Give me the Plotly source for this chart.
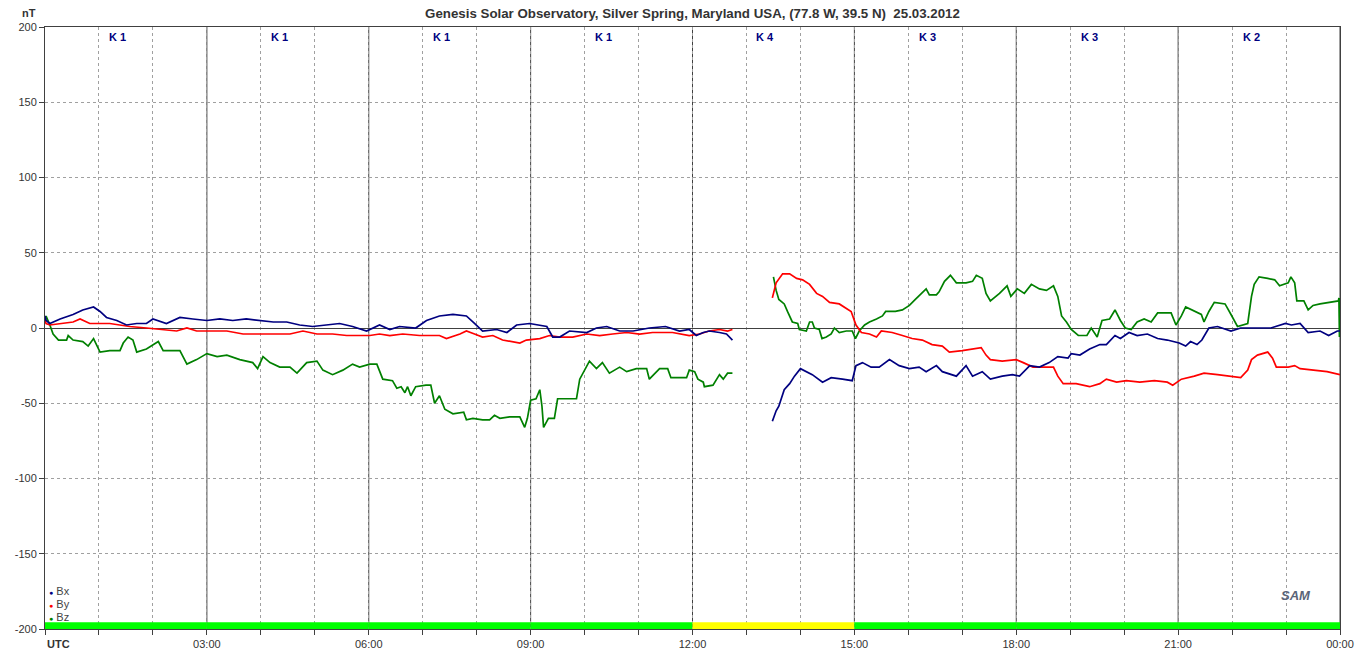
import plotly.graph_objects as go

# ---------------- data (hours UTC, nT) ----------------
bx_t = [0, 0.02, 0.09, 0.28, 0.52, 0.7, 0.9, 1.02, 1.14, 1.33, 1.51, 1.7, 1.88, 2.0, 2.25, 2.5, 2.74, 3.0,
        3.24, 3.48, 3.73, 3.98, 4.23, 4.48, 4.72, 4.96, 5.22, 5.46, 5.7, 5.96, 6.2, 6.39, 6.57, 6.87, 7.07,
        7.31, 7.56, 7.81, 7.96, 8.11, 8.37, 8.56, 8.74, 8.98, 9.3, 9.41, 9.54, 9.72, 10.04, 10.22, 10.41,
        10.65, 10.9, 11.2, 11.5, 11.76, 11.94, 12.07, 12.2, 12.31, 12.5, 12.63, 12.74, 13.0,
        13.48, 13.55, 13.6, 13.7, 13.8, 13.89, 14.0, 14.11, 14.22, 14.41, 14.57, 14.78, 14.96, 15.03, 15.15,
        15.31, 15.46, 15.65, 15.83, 16.02, 16.2, 16.33, 16.52, 16.63, 16.89, 17.07, 17.19, 17.37, 17.52,
        17.74, 17.93, 18.06, 18.25, 18.43, 18.61, 18.77, 18.96, 19.02, 19.18, 19.36, 19.55, 19.67, 19.83,
        19.93, 20.09, 20.24, 20.43, 20.62, 20.8, 21.02, 21.14, 21.23, 21.35, 21.44, 21.57, 21.73, 21.98,
        22.16, 22.47, 22.72, 22.99, 23.1, 23.26, 23.41, 23.63, 23.79, 23.95, 24.0]
bx_v = [8, 5, 3, 6, 9, 12, 14, 11, 7, 5, 2, 3, 3, 6, 3, 7, 6, 5,
        6, 5, 6, 5, 4, 4, 2, 1, 2, 3, 1, -2, 2, -1, 1, 0, 5,
        8, 9, 8, 3, -2, -1, -3, 2, 3, 1, -6, -6, -2, -3, 0, 1,
        -2, -2, 0, 1, -2, -1, -5, -3, -2, -3, -4, -8, None,
        -62, -55, -52, -41, -37, -32, -27, -29, -31, -36, -33, -34, -35, -25, -23,
        -26, -26, -21, -25, -27, -26, -29, -25, -29, -32, -25, -32, -29, -34,
        -32, -31, -32, -25, -26, -23, -19, -20, -17, -18, -14, -11, -11, -5,
        -7, -3, -5, -4, -7, -8, -10, -12, -9, -11, -8, 0, 1, -2,
        0, 0, 0, 3, 2, 3, -3, -2, -5, -2, -2]

by_t = [0, 0.02, 0.09, 0.33, 0.52, 0.65, 0.83, 1.2, 1.39, 1.57, 1.88, 2.25, 2.44, 2.63, 2.81, 3.11, 3.37,
        3.67, 3.98, 4.23, 4.54, 4.78, 5.04, 5.33, 5.59, 5.83, 6.02, 6.2, 6.39, 6.63, 6.94, 7.31, 7.44, 7.69,
        7.81, 7.96, 8.11, 8.3, 8.48, 8.8, 8.92, 9.17, 9.35, 9.54, 9.78, 10.04, 10.28, 10.52, 10.78, 11.02,
        11.26, 11.63, 11.94, 12.13, 12.31, 12.5, 12.65, 12.74, 13.0,
        13.48, 13.55, 13.67, 13.8, 13.93, 14.04, 14.17, 14.3, 14.41, 14.54, 14.72, 14.85, 14.94, 15.03,
        15.13, 15.28, 15.41, 15.5, 15.7, 15.89, 16.07, 16.26, 16.44, 16.63, 16.76, 17.0, 17.19, 17.35,
        17.44, 17.52, 17.74, 18.0, 18.13, 18.31, 18.69, 18.77, 18.87, 19.11, 19.36, 19.55, 19.67, 19.86,
        20.04, 20.29, 20.56, 20.8, 20.9, 21.06, 21.3, 21.48, 21.73, 21.98, 22.16, 22.29, 22.36, 22.47,
        22.66, 22.75, 22.82, 23.04, 23.16, 23.26, 23.57, 23.76, 24.0]
by_v = [5, 3, 2, 3, 4, 6, 3, 3, 2, 1, 0, -1, -2, 0, -2, -2, -2,
        -4, -4, -4, -4, -2, -4, -4, -5, -5, -5, -4, -5, -4, -5, -5, -7, -4,
        -2, -4, -6, -5, -8, -10, -8, -7, -5, -6, -6, -4, -5, -4, -3, -4,
        -3, -3, -5, -4, -2, -1, -2, -1, None,
        20, 30, 36, 36, 33, 32, 29, 23, 21, 17, 16, 13, 11, 2,
        -3, -4, -6, -2, -3, -5, -7, -8, -11, -12, -16, -15, -14, -13,
        -18, -21, -22, -21, -23, -26, -26, -32, -37, -37, -39, -37, -34, -36,
        -35, -36, -35, -36, -38, -34, -32, -30, -31, -32, -33, -28, -21, -18,
        -16, -20, -26, -26, -25, -27, -28, -29, -31]

bz_t = [0, 0.02, 0.09, 0.15, 0.25, 0.4, 0.43, 0.52, 0.7, 0.8, 0.9, 1.02, 1.2, 1.39, 1.45, 1.54, 1.63, 1.7,
        1.88, 2.0, 2.1, 2.19, 2.37, 2.5, 2.63, 2.81, 3.0, 3.19, 3.37, 3.61, 3.85, 3.94, 4.04, 4.17, 4.35,
        4.54, 4.67, 4.85, 5.04, 5.15, 5.33, 5.52, 5.7, 5.83, 6.02, 6.15, 6.26, 6.44, 6.52, 6.6, 6.67, 6.72,
        6.78, 6.87, 7.06, 7.15, 7.22, 7.31, 7.41, 7.56, 7.76, 7.81, 7.93, 8.11, 8.24, 8.33, 8.43, 8.61,
        8.8, 8.89, 8.94, 9.0, 9.1, 9.17, 9.21, 9.24, 9.33, 9.44, 9.5, 9.59, 9.85, 9.91, 10.09, 10.22,
        10.33, 10.46, 10.65, 10.78, 10.96, 11.15, 11.2, 11.39, 11.54, 11.6, 11.89, 11.94, 12.04, 12.1,
        12.2, 12.22, 12.38, 12.5, 12.57, 12.65, 12.74, 13.0,
        13.5, 13.55, 13.6, 13.7, 13.76, 13.85, 13.95, 13.98, 14.11, 14.17, 14.22, 14.26, 14.35, 14.4,
        14.48, 14.57, 14.63, 14.72, 14.85, 14.96, 15.02, 15.09, 15.19, 15.28, 15.41, 15.52, 15.58, 15.76,
        15.89, 16.02, 16.13, 16.33, 16.39, 16.52, 16.57, 16.67, 16.78, 16.89, 17.07, 17.19, 17.26, 17.37,
        17.44, 17.52, 17.69, 17.83, 17.9, 18.02, 18.15, 18.28, 18.43, 18.56, 18.69, 18.77, 18.84, 18.93,
        19.02, 19.15, 19.31, 19.39, 19.5, 19.59, 19.73, 19.83, 19.93, 20.02, 20.13, 20.24, 20.37, 20.5,
        20.62, 20.74, 20.87, 20.96, 21.06, 21.14, 21.3, 21.43, 21.48, 21.57, 21.67, 21.87, 21.98, 22.1,
        22.29, 22.36, 22.41, 22.5, 22.66, 22.79, 22.88, 23.04, 23.09, 23.16, 23.2, 23.33, 23.41, 23.5,
        23.63, 23.83, 23.97, 23.98, 23.99, 24.0]
bz_v = [4, 8, 2, -4, -8, -8, -5, -8, -9, -12, -7, -16, -15, -15, -10, -6, -8, -16,
        -14, -11, -9, -15, -15, -15, -24, -21, -17, -19, -18, -21, -23, -27, -19, -23, -26,
        -26, -30, -23, -22, -28, -31, -28, -24, -26, -24, -24, -34, -35, -40, -39, -43, -39,
        -45, -39, -38, -38, -50, -45, -54, -57, -56, -61, -60, -61, -61, -58, -60, -59,
        -59, -66, -60, -48, -47, -41, -52, -66, -60, -60, -47, -47, -47, -34, -22, -27,
        -23, -30, -26, -29, -27, -27, -34, -27, -27, -33, -33, -28, -29, -34,
        -36, -39, -38, -31, -34, -30, -30, None,
        34, 25, 19, 16, 11, 4, 3, -1, -2, 4, 4, 0, -1, -7,
        -6, -4, 0, -3, -2, -2, -7, -2, 2, 4, 6, 8, 11, 11,
        12, 15, 19, 26, 22, 22, 24, 31, 35, 30, 30, 31, 35, 33,
        23, 18, 23, 28, 21, 26, 23, 29, 26, 25, 28, 21, 8, 4,
        -1, -5, -5, 0, -6, 5, 6, 12, 5, 0, -1, 4, 6, 4,
        10, 10, 10, 2, 8, 14, 11, 9, 4, 11, 17, 16, 9, 1,
        3, 21, 29, 34, 33, 32, 28, 30, 34, 30, 18, 18, 12, 15,
        16, 17, 18, 20, -6, 20]

k_index = [1, 1, 1, 1, 4, 3, 3, 2]
hour_labels = ["03:00", "06:00", "09:00", "12:00", "15:00", "18:00", "21:00", "00:00"]
y_ticks = [-200, -150, -100, -50, 0, 50, 100, 150, 200]
y_tick_labels = ["-200", "-150", "-100", "-50", "0", "50", "100", "150", "200"]

BX_C, BY_C, BZ_C = "#000080", "#ff0000", "#008000"
GRID_SOLID = "#404040"
TXT = "#333333"
FONT = "Liberation Sans"

fig = go.Figure()
fig.add_trace(go.Scatter(x=bz_t, y=bz_v, mode="lines", line=dict(color=BZ_C, width=1.7),
                         connectgaps=False, name="Bz", showlegend=False))
fig.add_trace(go.Scatter(x=by_t, y=by_v, mode="lines", line=dict(color=BY_C, width=1.7),
                         connectgaps=False, name="By", showlegend=False))
fig.add_trace(go.Scatter(x=bx_t, y=bx_v, mode="lines", line=dict(color=BX_C, width=1.7),
                         connectgaps=False, name="Bx", showlegend=False))

shapes = []
# solid vertical lines every 3 h
for i in range(1, 9):
    shapes.append(dict(type="line", xref="x", yref="paper", x0=3 * i, x1=3 * i, y0=0, y1=1,
                       line=dict(color=GRID_SOLID, width=1), layer="below"))
# K-index bar at bottom
for i, k in enumerate(k_index):
    col = "#00ff00" if k < 4 else ("#ffff00" if k == 4 else "#ff3300")
    shapes.append(dict(type="rect", xref="x", yref="y", x0=3 * i, x1=3 * (i + 1), y0=-200, y1=-195.5,
                       fillcolor=col, line=dict(width=0), layer="above"))
annotations = []
for i, k in enumerate(k_index):
    annotations.append(dict(x=3 * i + 1.5, y=1, xref="x", yref="paper", text=f"<b>K {k}</b>",
                            yanchor="middle", yshift=-10, showarrow=False, xshift=-8,
                            font=dict(family=FONT, size=11, color="#000080")))

# legend-like labels
for j, (nm, c) in enumerate([("Bx", BX_C), ("By", BY_C), ("Bz", BZ_C)]):
    annotations.append(dict(x=0, y=(629 - (591 + 13 * j)) / 602, xref="paper", yref="paper",
                            xanchor="left", yanchor="middle", xshift=2, showarrow=False,
                            text=f"<span style='color:{c};font-size:7px'>●</span> {nm}",
                            font=dict(family=FONT, size=11, color="#444444")))

annotations.append(dict(x=-25 / 1295, y=1, xref="paper", yref="paper", yanchor="middle", yshift=14,
                        text="<b>nT</b>", showarrow=False,
                        font=dict(family=FONT, size=11, color=TXT)))
annotations.append(dict(x=0, y=0, xref="paper", yref="paper", xanchor="left", yanchor="top", yshift=-7,
                        text="<b>UTC</b>", showarrow=False,
                        font=dict(family=FONT, size=11, color=TXT)))
annotations.append(dict(x=0.979, y=0.04, xref="paper", yref="paper", text="<i><b>SAM</b></i>", showarrow=False,
                        font=dict(family=FONT, size=13, color="#5a6478")))

fig.update_layout(
    width=1360, height=657,
    margin=dict(l=45, r=20, t=27, b=28, autoexpand=False),
    paper_bgcolor="white", plot_bgcolor="white",
    title=dict(text="<b>Genesis Solar Observatory, Silver Spring, Maryland USA, (77.8 W, 39.5 N)  25.03.2012</b>",
               x=0.5, xref="paper", y=1 - 13 / 657, yref="container", xanchor="center", yanchor="middle",
               automargin=False, font=dict(family=FONT, size=13.3, color=TXT)),
    xaxis=dict(range=[0, 24], tickmode="array", tickvals=list(range(0, 25)),
               ticktext=[""] + sum([["", "", h] for h in hour_labels], []),
               showgrid=True, gridcolor="#a0a0a0", griddash="3px,3px", gridwidth=1,
               ticks="outside", ticklen=5, tickcolor=GRID_SOLID, automargin=False,
               showline=True, linecolor=GRID_SOLID, linewidth=1, mirror=True,
               zeroline=False, tickfont=dict(family=FONT, size=11, color=TXT)),
    yaxis=dict(range=[-200, 200], tickmode="array", tickvals=y_ticks, ticktext=y_tick_labels,
               showgrid=True, gridcolor="#a0a0a0", griddash="3px,3px", gridwidth=1,
               zeroline=True, zerolinecolor=GRID_SOLID, zerolinewidth=1, automargin=False,
               ticks="outside", ticklen=5, tickcolor=GRID_SOLID,
               showline=True, linecolor=GRID_SOLID, linewidth=1, mirror=True,
               tickfont=dict(family=FONT, size=11, color=TXT)),
    shapes=shapes, annotations=annotations, showlegend=False,
)

fig.write_html("out.html", config={"displayModeBar": False},
               post_script="document.body.style.margin='0';document.body.style.overflow='hidden';")
